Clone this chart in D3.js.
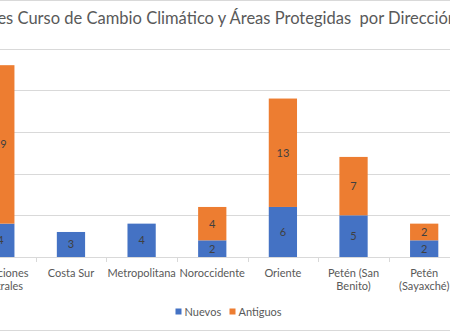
<!DOCTYPE html>
<html>
<head>
<meta charset="utf-8">
<script src="https://cdn.jsdelivr.net/npm/d3@7/dist/d3.min.js"></script>
<style>
  body { margin: 0; background: #fff; }
  svg { display: block; font-family: Lato, "Open Sans", sans-serif; }
  .title { white-space: pre; }
</style>
</head>
<body>
<svg width="450" height="331"></svg>
<script>
var title = 'Participantes Curso de Cambio Climático y Áreas Protegidas  por Dirección Regional';
var categories = ['Direcciones Centrales', 'Costa Sur', 'Metropolitana', 'Noroccidente', 'Oriente', 'Petén (San Benito)', 'Petén (Sayaxché)'];
var nuevos = [4, 3, 4, 2, 6, 5, 2];
var antiguos = [19, 0, 0, 4, 13, 7, 2];
var seriesNames = ['Nuevos', 'Antiguos'];
var yTicks = [0, 5, 10, 15, 20, 25];

var colors = ['#4472C4', '#ED7D31'];
var svg = d3.select('svg');

var rows = categories.map(function (c, i) { return { cat: c, Nuevos: nuevos[i], Antiguos: antiguos[i] }; });
var stack = d3.stack().keys(seriesNames)(rows);

var x = d3.scaleBand().domain(categories).range([-35, 459.5]).paddingInner(0.6).paddingOuter(0.3);
var y = d3.scaleLinear().domain([0, 25]).range([257, 48.5]);
var band = d3.scaleBand().domain(categories).range([-35, 459.5]);

// frame lines
svg.append('line').attr('x1', 0).attr('x2', 450).attr('y1', 0.5).attr('y2', 0.5).attr('stroke', '#d9d9d9');
svg.append('line').attr('x1', 0).attr('x2', 450).attr('y1', 330.5).attr('y2', 330.5).attr('stroke', '#d9d9d9');

// gridlines
svg.append('g').selectAll('line').data(yTicks.slice(1)).enter().append('line')
    .attr('x1', 0).attr('x2', 450)
    .attr('y1', function (d) { return Math.round(y(d)) + 0.5; })
    .attr('y2', function (d) { return Math.round(y(d)) + 0.5; })
    .attr('stroke', '#d9d9d9').attr('stroke-width', 1);

// bars
var layers = svg.append('g').selectAll('g').data(stack).enter().append('g')
    .attr('fill', function (d, i) { return colors[i]; });

layers.selectAll('rect').data(function (d) { return d; }).enter().append('rect')
    .attr('x', function (d) { return x(d.data.cat); })
    .attr('width', x.bandwidth())
    .attr('y', function (d) { return y(d[1]); })
    .attr('height', function (d) { return y(d[0]) - y(d[1]); });

layers.selectAll('text').data(function (d) { return d.filter(function (p) { return p[1] - p[0] > 0; }); }).enter().append('text')
    .attr('x', function (d) { return x(d.data.cat) + x.bandwidth() / 2; })
    .attr('y', function (d) { return (y(d[0]) + y(d[1])) / 2 + 4; })
    .attr('text-anchor', 'middle')
    .attr('font-size', 11)
    .attr('fill', '#404040')
    .text(function (d) { return d[1] - d[0]; });

// baseline and category ticks
svg.append('line').attr('x1', 0).attr('x2', 450).attr('y1', 257.5).attr('y2', 257.5).attr('stroke', '#d9d9d9');
svg.append('g').selectAll('line').data(categories.slice(1)).enter().append('line')
    .attr('x1', function (d) { return Math.round(band(d)) + 0.5; })
    .attr('x2', function (d) { return Math.round(band(d)) + 0.5; })
    .attr('y1', 257).attr('y2', 262)
    .attr('stroke', '#d9d9d9');

// category labels, wrapped to the band width
var labels = svg.append('g').selectAll('text').data(categories).enter().append('text')
    .attr('text-anchor', 'middle')
    .attr('font-size', 11)
    .attr('fill', '#595959')
    .attr('x', function (d) { return band(d) + band.bandwidth() / 2; })
    .attr('y', 276.5);

labels.each(function (d) {
    var t = d3.select(this), cx = band(d) + band.bandwidth() / 2;
    var words = d.split(' '), line = [];
    var span = t.append('tspan').attr('x', cx).attr('dy', 0);
    words.forEach(function (w) {
        line.push(w);
        span.text(line.join(' '));
        if (span.node().getComputedTextLength() > 70 && line.length > 1) {
            line.pop();
            span.text(line.join(' '));
            line = [w];
            span = t.append('tspan').attr('x', cx).attr('dy', 13).text(w);
        }
    });
});

// legend
var legend = svg.append('g');
var lx = [175.5, 229.5];
seriesNames.forEach(function (s, i) {
    legend.append('rect').attr('x', lx[i]).attr('y', 308.5).attr('width', 6).attr('height', 6).attr('fill', colors[i]);
    legend.append('text').attr('x', lx[i] + 9).attr('y', 315.5).attr('font-size', 11).attr('fill', '#595959').text(s);
});

// title: sized so "Curso ... Direcció" spans 17.5 -> 448
var tt = svg.append('text').attr('class', 'title').attr('font-size', 10).attr('fill', '#595959').attr('y', 24).text(title);
var i0 = title.indexOf('Curso'), i1 = title.indexOf('Direcció') + 8;
var span10 = tt.node().getSubStringLength(i0, i1 - i0);
tt.attr('font-size', 10 * (448 - 17.5) / span10);
var off = tt.node().getSubStringLength(0, i0);
tt.attr('x', 17.5 - off);
</script>
</body>
</html>
